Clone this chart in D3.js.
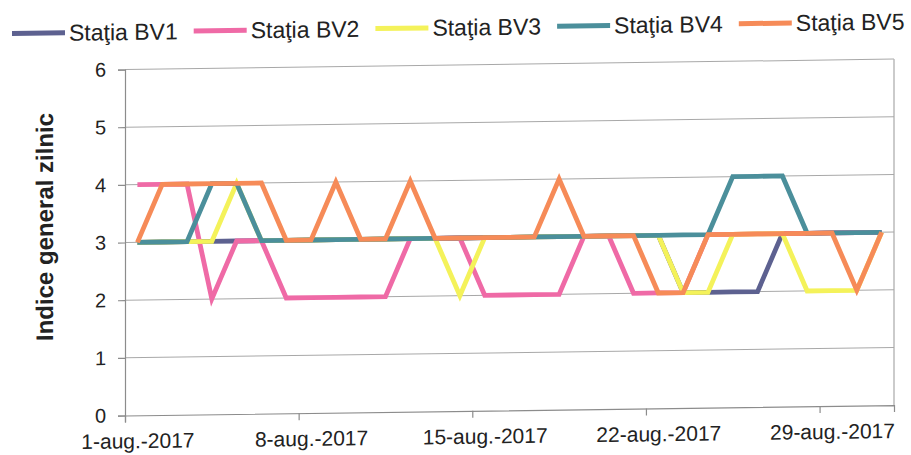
<!DOCTYPE html>
<html>
<head>
<meta charset="utf-8">
<style>
  body { margin: 0; background: #fff; }
  text { font-family: Arial, "Liberation Sans", sans-serif; fill: #222; }
</style>
</head>
<body>
<div id="chart"></div>
<script src="https://d3js.org/d3.v7.min.js"></script>
<script>
  // daily values, 1-31 aug 2017
  var days = d3.range(1, 32).map(function(d) { return d + "-aug.-2017"; });
  var labelDays = ["1-aug.-2017", "8-aug.-2017", "15-aug.-2017", "22-aug.-2017", "29-aug.-2017"];
  var yTicks = [0, 1, 2, 3, 4, 5, 6];

  var bv1 = [3,3,3,3,3,3,3,3,3,3,3,3,3,3,3,3,3,3,3,3,3,3,2,2,2,2,3,3,3,3,3];
  var bv2 = [4,4,4,2,3,3,2,2,2,2,2,3,3,3,2,2,2,2,3,3,2,2,2,3,3,3,3,3,3,3,3];
  var bv3 = [3,3,3,3,4,3,3,3,3,3,3,3,3,2,3,3,3,3,3,3,3,3,2,2,3,3,3,2,2,2,3];
  var bv4 = [3,3,3,4,4,3,3,3,3,3,3,3,3,3,3,3,3,3,3,3,3,3,3,3,4,4,4,3,3,3,3];
  var bv5 = [3,4,4,4,4,4,3,3,4,3,3,4,3,3,3,3,3,4,3,3,3,2,2,3,3,3,3,3,3,2,3];

  var names = ["Staţia BV1", "Staţia BV2", "Staţia BV3", "Staţia BV4", "Staţia BV5"];
  var colors = ["#5d6190", "#ef6aa6", "#f4f25a", "#4b8f9b", "#f68b58"];
  var series = [bv1, bv2, bv3, bv4, bv5];

  var width = 911;
  var height = 455;
  var svg = d3.select("#chart")
    .append("svg")
    .attr("width", width)
    .attr("height", height);

  svg.append("rect").attr("width", width).attr("height", height).attr("fill", "#fff");

  // the scan is slightly tilted, right side higher
  var skew = 0.0135;
  var g = svg.append("g")
    .attr("transform", "matrix(1," + (-skew) + ",0,1,0," + (skew * 125) + ")");

  var plotLeft = 125, plotRight = 894, plotTop = 69.5, plotBottom = 415.5;

  var x = d3.scaleLinear().domain([0, days.length]).range([plotLeft, plotRight]);
  var y = d3.scaleLinear().domain([0, 6]).range([plotBottom, plotTop]);

  // gridlines
  g.selectAll(".grid")
    .data(yTicks.slice(1))
    .enter().append("line")
    .attr("x1", plotLeft).attr("x2", plotRight)
    .attr("y1", function(d) { return y(d); })
    .attr("y2", function(d) { return y(d); })
    .attr("stroke", "#a8a8a8")
    .attr("stroke-width", 1);

  // right border
  g.append("line")
    .attr("x1", plotRight).attr("x2", plotRight)
    .attr("y1", plotTop).attr("y2", plotBottom)
    .attr("stroke", "#a8a8a8")
    .attr("stroke-width", 1.2);

  // y axis
  var yAxis = g.append("g")
    .attr("transform", "translate(" + plotLeft + ",0)")
    .call(d3.axisLeft(y).tickValues(yTicks).tickSize(7).tickPadding(12)
      .tickFormat(d3.format("d")));
  yAxis.selectAll("text").attr("font-size", "20px").attr("fill", "#333");
  yAxis.selectAll("line, path").attr("stroke", "#8c8c8c").attr("stroke-width", 1.2);

  // x axis, ticks between weeks
  var xTickAxis = g.append("g")
    .attr("transform", "translate(0," + plotBottom + ")")
    .call(d3.axisBottom(x).tickValues([0, 7, 14, 21, 28]).tickSize(7).tickFormat(""));
  xTickAxis.selectAll("line, path").attr("stroke", "#8c8c8c").attr("stroke-width", 1.2);

  var xLabelAxis = g.append("g")
    .attr("transform", "translate(0," + plotBottom + ")")
    .call(d3.axisBottom(x)
      .tickValues(labelDays.map(function(d) { return days.indexOf(d) + 0.5; }))
      .tickSize(0).tickPadding(18)
      .tickFormat(function(d) { return days[Math.floor(d)]; }));
  xLabelAxis.select(".domain").remove();
  xLabelAxis.selectAll("text").attr("font-size", "21px").attr("fill", "#333");

  // y title
  g.append("text")
    .attr("transform", "translate(45,226) rotate(-90)")
    .attr("text-anchor", "middle")
    .attr("dominant-baseline", "central")
    .attr("font-size", "24px")
    .attr("font-weight", "bold")
    .attr("fill", "#444")
    .text("Indice general zilnic");

  // lines
  var line = d3.line()
    .x(function(d, i) { return x(i + 0.5); })
    .y(function(d) { return y(d); });

  series.forEach(function(s, k) {
    g.append("path")
      .datum(s)
      .attr("d", line)
      .attr("fill", "none")
      .attr("stroke", colors[k])
      .attr("stroke-width", 4.8)
      .attr("stroke-linejoin", "miter");
  });

  // legend
  names.forEach(function(n, k) {
    var lx = 12 + k * 181.7;
    g.append("line")
      .attr("x1", lx).attr("x2", lx + 53)
      .attr("y1", 32).attr("y2", 32)
      .attr("stroke", colors[k])
      .attr("stroke-width", 5);
    g.append("text")
      .attr("x", lx + 57)
      .attr("y", 32)
      .attr("dominant-baseline", "central")
      .attr("font-size", "23px")
      .attr("fill", "#333")
      .text(n);
  });
</script>
</body>
</html>
